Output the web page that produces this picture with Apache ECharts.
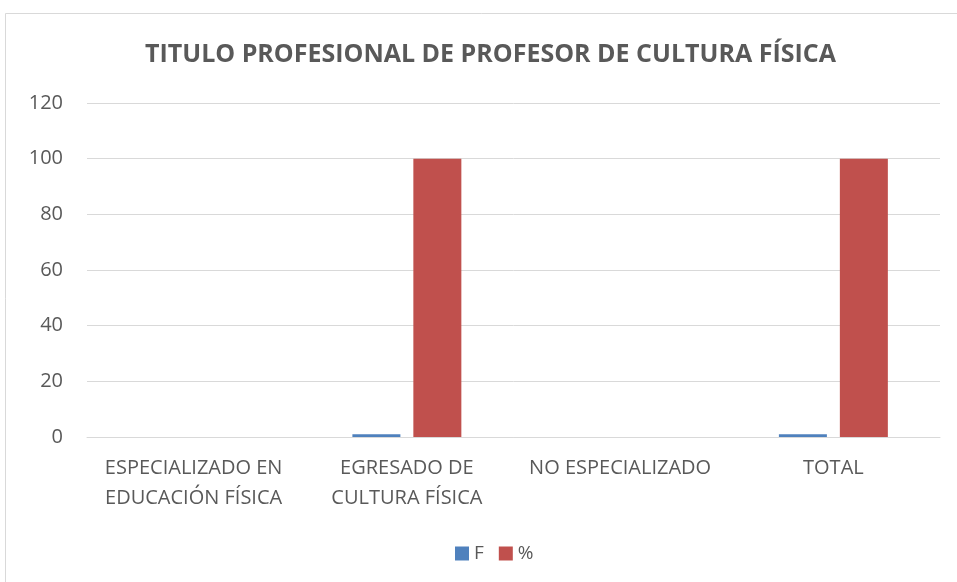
<!DOCTYPE html>
<html>
<head>
<meta charset="utf-8">
<script src="https://cdn.jsdelivr.net/npm/echarts@6/dist/echarts.min.js"></script>
<style>
html,body{margin:0;padding:0;background:#fff;}
#chart{width:957px;height:582px;}
</style>
</head>
<body>
<div id="chart"></div>
<script>
const categories = ['ESPECIALIZADO EN\nEDUCACIÓN FÍSICA', 'EGRESADO DE\nCULTURA FÍSICA', 'NO ESPECIALIZADO', 'TOTAL'];
const seriesF = [0, 1, 0, 1];
const seriesPct = [0, 100, 0, 100];
const seriesNames = ['F', '%'];
const titleText = 'TITULO PROFESIONAL DE PROFESOR DE CULTURA FÍSICA';

const chart = echarts.init(document.getElementById('chart'), null, {renderer: 'canvas'});
const font = '"Open Sans", sans-serif';
chart.setOption({
  backgroundColor: '#ffffff',
  animation: false,
  graphic: [{
    type: 'rect',
    shape: {x: 5.5, y: 13.5, width: 1000, height: 1000},
    style: {fill: 'none', stroke: '#d9d9d9', lineWidth: 1},
    silent: true
  }],
  title: {
    text: titleText,
    left: 140,
    top: 37,
    textStyle: {fontFamily: font, fontWeight: 'bold', fontSize: 25, color: '#595959'}
  },
  legend: {
    data: seriesNames,
    top: 539,
    left: 450,
    itemWidth: 14,
    itemHeight: 14,
    itemGap: 15,
    icon: 'rect',
    textStyle: {fontFamily: font, fontSize: 19, color: '#595959'}
  },
  grid: {left: 87, right: 17, top: 103, bottom: 145, containLabel: false},
  xAxis: {
    type: 'category',
    data: categories,
    axisLine: {lineStyle: {color: '#d9d9d9', width: 1}},
    axisTick: {show: false},
    axisLabel: {fontFamily: font, fontSize: 20, color: '#595959', lineHeight: 30, margin: 16, interval: 0}
  },
  yAxis: {
    type: 'value',
    min: 0, max: 120, interval: 20,
    axisLine: {show: false},
    axisTick: {show: false},
    splitLine: {lineStyle: {color: '#d9d9d9', width: 1}},
    axisLabel: {fontFamily: font, fontSize: 20, color: '#595959', margin: 24}
  },
  series: [
    {name: seriesNames[0], type: 'bar', data: seriesF, barWidth: 48, barGap: '27%', itemStyle: {color: '#4f81bd'}},
    {name: seriesNames[1], type: 'bar', data: seriesPct, barWidth: 48, itemStyle: {color: '#c0504d'}}
  ]
});
</script>
</body>
</html>
